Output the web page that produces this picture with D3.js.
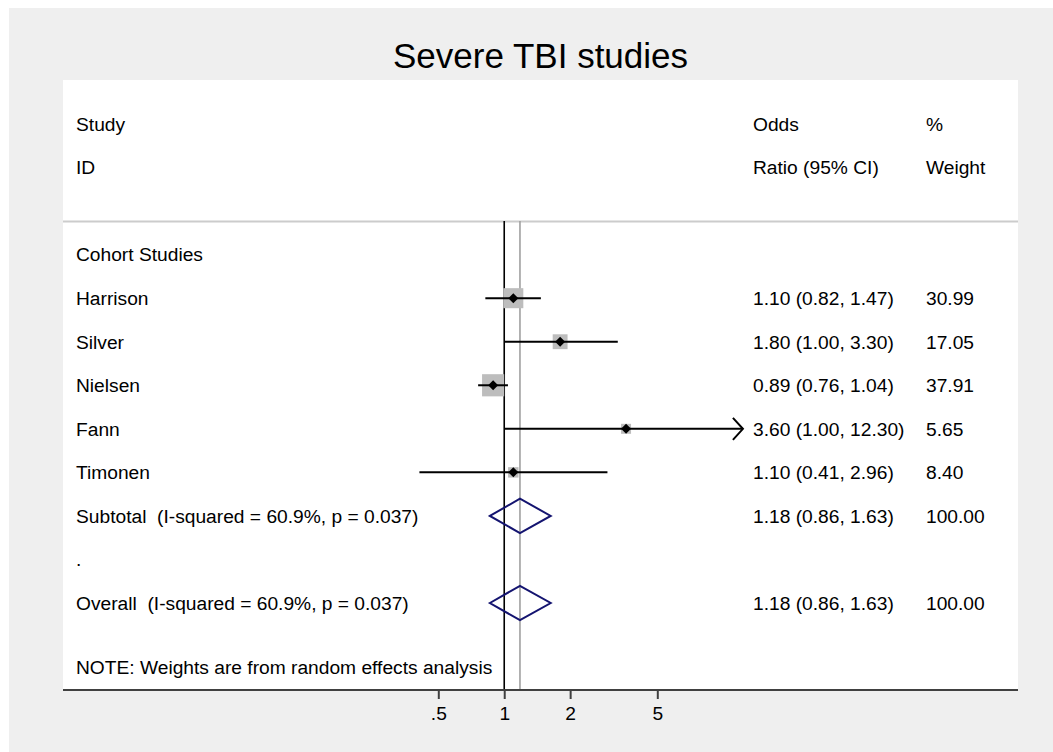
<!DOCTYPE html>
<html>
<head>
<meta charset="utf-8">
<script type="text/javascript" src="https://d3js.org/d3.v7.min.js"></script>
<style>
  body { margin: 0; background: #ffffff; }
  text { font-family: "Liberation Sans", Arial, Helvetica, sans-serif; fill: #000; }
</style>
</head>
<body>
<svg id="chart" width="1053" height="752"></svg>

<script type="text/javascript">
    // study level data
    var studies = ["Harrison", "Silver", "Nielsen", "Fann", "Timonen"];
    var oddsRatio = [1.10, 1.80, 0.89, 3.60, 1.10];
    var ciLow = [0.82, 1.00, 0.76, 1.00, 0.41];
    var ciHigh = [1.47, 3.30, 1.04, 12.30, 2.96];
    var weights = [30.99, 17.05, 37.91, 5.65, 8.40];

    // pooled estimates
    var pooledLabels = ["Subtotal  (I-squared = 60.9%, p = 0.037)", "Overall  (I-squared = 60.9%, p = 0.037)"];
    var pooledOR = [1.18, 1.18];
    var pooledLow = [0.86, 0.86];
    var pooledHigh = [1.63, 1.63];
    var pooledWeight = [100.00, 100.00];

    var tickValues = [0.5, 1, 2, 5];
    var tickLabels = [".5", "1", "2", "5"];

    var svg = d3.select("#chart");
    var fs = 19.2;

    // backgrounds
    svg.append("rect").attr("x", 9).attr("y", 8).attr("width", 1044).attr("height", 744).style("fill", "#efefef");
    svg.append("rect").attr("x", 63).attr("y", 80).attr("width", 955).attr("height", 610).style("fill", "#ffffff");

    svg.append("text")
        .attr("x", 540.5).attr("y", 68)
        .attr("text-anchor", "middle")
        .style("font-size", "35px")
        .text("Severe TBI studies");

    var x = d3.scaleLog().domain([0.5, 5]).range([438.3, 657.3]);
    var y = d3.scaleLinear().domain([0, 11]).range([124, 603]);

    var textOff = 6.8;
    var colStudy = 76, colOR = 753, colW = 926;

    // header
    var header = [
        { row: 0, col: colStudy, t: "Study" }, { row: 1, col: colStudy, t: "ID" },
        { row: 0, col: colOR, t: "Odds" }, { row: 1, col: colOR, t: "Ratio (95% CI)" },
        { row: 0, col: colW, t: "%" }, { row: 1, col: colW, t: "Weight" }
    ];
    svg.selectAll("text.head")
            .data(header)
        .enter()
            .append("text")
            .attr("class", "head")
            .attr("x", function (d) { return d.col })
            .attr("y", function (d) { return y(d.row) + textOff })
            .style("font-size", fs + "px")
            .text(function (d) { return d.t });

    svg.append("line")
        .attr("x1", 63).attr("x2", 1018).attr("y1", 221.5).attr("y2", 221.5)
        .style("stroke", "#cccccc").style("stroke-width", 2);

    // reference lines at 1 and at pooled estimate
    svg.append("line")
        .attr("x1", x(1)).attr("x2", x(1)).attr("y1", 221).attr("y2", 690)
        .style("stroke", "#000").style("stroke-width", 1.6);
    svg.append("line")
        .attr("x1", x(pooledOR[1])).attr("x2", x(pooledOR[1])).attr("y1", 221).attr("y2", 690)
        .style("stroke", "#a0a0a0").style("stroke-width", 1.6);

    svg.append("text")
        .attr("x", colStudy).attr("y", y(3) + textOff)
        .style("font-size", fs + "px")
        .text("Cohort Studies");
    svg.append("text")
        .attr("x", colStudy).attr("y", y(10) + textOff)
        .style("font-size", fs + "px")
        .text(".");
    svg.append("text")
        .attr("x", colStudy).attr("y", y(11) + 64 + textOff)
        .style("font-size", fs + "px")
        .text("NOTE: Weights are from random effects analysis");

    var rows = studies.map(function (s, i) {
        return { name: s, or: oddsRatio[i], lo: ciLow[i], hi: ciHigh[i], w: weights[i], row: 4 + i };
    });
    var fmt = d3.format(".2f");
    var side = d3.scaleSqrt().domain([0, 100]).range([0, 36]);

    // weight boxes
    svg.selectAll("rect.box")
            .data(rows)
        .enter()
            .append("rect")
            .attr("class", "box")
            .attr("x", function (d) { return x(d.or) - Math.max(side(d.w), 10) / 2 })
            .attr("y", function (d) { return y(d.row) - Math.max(side(d.w), 10) / 2 })
            .attr("width", function (d) { return Math.max(side(d.w), 10) })
            .attr("height", function (d) { return Math.max(side(d.w), 10) })
            .style("fill", "#bdbdbd");

    // confidence intervals (arrow when past axis end)
    var xMax = x(12.3);
    svg.selectAll("line.ci")
            .data(rows)
        .enter()
            .append("line")
            .attr("class", "ci")
            .attr("x1", function (d) { return x(d.lo) })
            .attr("x2", function (d) { return Math.min(x(d.hi), xMax) })
            .attr("y1", function (d) { return y(d.row) })
            .attr("y2", function (d) { return y(d.row) })
            .style("stroke", "#000").style("stroke-width", 2);

    svg.selectAll("path.arrow")
            .data(rows.filter(function (d) { return x(d.hi) >= xMax - 0.5 }))
        .enter()
            .append("path")
            .attr("class", "arrow")
            .attr("d", function (d) {
                var ax = x(d.hi), ay = y(d.row);
                return "M" + (ax - 10) + "," + (ay - 11) + "L" + ax + "," + ay + "L" + (ax - 10) + "," + (ay + 11);
            })
            .style("fill", "none").style("stroke", "#000").style("stroke-width", 2);

    svg.selectAll("path.point")
            .data(rows)
        .enter()
            .append("path")
            .attr("class", "point")
            .attr("d", function (d) {
                var cx = x(d.or), cy = y(d.row), r = 5;
                return "M" + (cx - r) + "," + cy + "L" + cx + "," + (cy - r) + "L" + (cx + r) + "," + cy + "L" + cx + "," + (cy + r) + "Z";
            })
            .style("fill", "#000");

    svg.selectAll("text.name")
            .data(rows)
        .enter()
            .append("text")
            .attr("class", "name")
            .attr("x", colStudy)
            .attr("y", function (d) { return y(d.row) + textOff })
            .style("font-size", fs + "px")
            .text(function (d) { return d.name });

    svg.selectAll("text.est")
            .data(rows)
        .enter()
            .append("text")
            .attr("class", "est")
            .attr("x", colOR)
            .attr("y", function (d) { return y(d.row) + textOff })
            .style("font-size", fs + "px")
            .text(function (d) { return fmt(d.or) + " (" + fmt(d.lo) + ", " + fmt(d.hi) + ")" });

    svg.selectAll("text.wt")
            .data(rows)
        .enter()
            .append("text")
            .attr("class", "wt")
            .attr("x", colW)
            .attr("y", function (d) { return y(d.row) + textOff })
            .style("font-size", fs + "px")
            .text(function (d) { return fmt(d.w) });

    // pooled diamonds
    var pooled = pooledLabels.map(function (s, i) {
        return { name: s, or: pooledOR[i], lo: pooledLow[i], hi: pooledHigh[i], w: pooledWeight[i], row: 9 + 2 * i };
    });

    svg.selectAll("path.diamond")
            .data(pooled)
        .enter()
            .append("path")
            .attr("class", "diamond")
            .attr("d", function (d) {
                var cy = y(d.row), h = 17.2;
                return "M" + x(d.lo) + "," + cy + "L" + x(d.or) + "," + (cy - h) + "L" + x(d.hi) + "," + cy + "L" + x(d.or) + "," + (cy + h) + "Z";
            })
            .style("fill", "none").style("stroke", "#141470").style("stroke-width", 2);

    svg.selectAll("text.pname")
            .data(pooled)
        .enter()
            .append("text")
            .attr("class", "pname")
            .attr("x", colStudy)
            .attr("y", function (d) { return y(d.row) + textOff })
            .style("font-size", fs + "px")
            .style("white-space", "pre")
            .attr("xml:space", "preserve")
            .text(function (d) { return d.name });

    svg.selectAll("text.pest")
            .data(pooled)
        .enter()
            .append("text")
            .attr("class", "pest")
            .attr("x", colOR)
            .attr("y", function (d) { return y(d.row) + textOff })
            .style("font-size", fs + "px")
            .text(function (d) { return fmt(d.or) + " (" + fmt(d.lo) + ", " + fmt(d.hi) + ")" });

    svg.selectAll("text.pwt")
            .data(pooled)
        .enter()
            .append("text")
            .attr("class", "pwt")
            .attr("x", colW)
            .attr("y", function (d) { return y(d.row) + textOff })
            .style("font-size", fs + "px")
            .text(function (d) { return fmt(d.w) });

    // x axis
    var axis = d3.axisBottom(x)
        .tickValues(tickValues)
        .tickFormat(function (d, i) { return tickLabels[i] })
        .tickSize(9)
        .tickSizeOuter(0);

    var gAxis = svg.append("g")
        .attr("transform", "translate(0,690)")
        .call(axis);
    gAxis.select(".domain").remove();
    gAxis.selectAll(".tick line").style("stroke", "#404040").style("stroke-width", 2);
    gAxis.selectAll(".tick text")
        .attr("y", 16)
        .style("font-size", fs + "px")
        .style("font-family", "'Liberation Sans', Arial, sans-serif")
        .style("fill", "#000");
    gAxis.append("line")
        .attr("x1", 63).attr("x2", 1018).attr("y1", 0).attr("y2", 0)
        .style("stroke", "#404040").style("stroke-width", 2.2);
</script>
</body>
</html>
